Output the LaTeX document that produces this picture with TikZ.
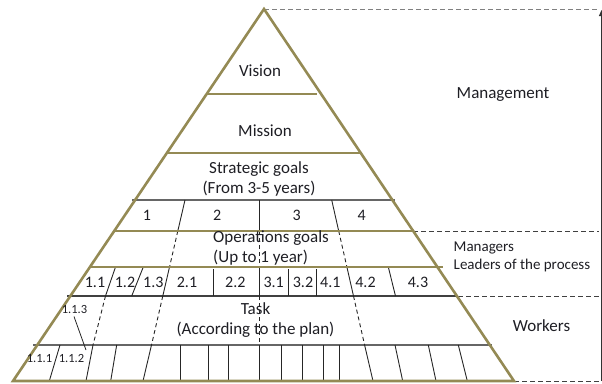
\documentclass[tikz,border=0pt]{standalone}
\usepackage{fontspec}
\setmainfont{Carlito}
\usetikzlibrary{arrows.meta}
\definecolor{olive}{HTML}{948A54}
\definecolor{inkgray}{HTML}{404040}
\definecolor{txt}{HTML}{1E1E24}
\begin{document}
\begin{tikzpicture}[x=1bp,y=-1bp,
  frame/.style={draw=olive,line width=2.6bp},
  thin/.style={draw=inkgray!80,line width=1.1bp},
  divider/.style={draw=black!85,line width=0.9bp},
  dashdiv/.style={divider,dash pattern=on 4bp off 3bp},
  guide/.style={draw=inkgray,line width=1bp,dash pattern=on 5bp off 3bp},
  lbl/.style={inner sep=0pt,text=txt,font=\fontsize{17bp}{20bp}\selectfont},
  sub/.style={inner sep=0pt,text=txt,font=\fontsize{16bp}{19bp}\selectfont},
  tiny/.style={inner sep=0pt,text=txt,font=\fontsize{12.5bp}{15bp}\selectfont},
  side/.style={inner sep=0pt,text=txt,font=\fontsize{15bp}{18bp}\selectfont}]
\useasboundingbox (0,0) rectangle (602,383);

% pyramid corners
\coordinate (apex) at (264,9);
\coordinate (bl) at (13,381);
\coordinate (br) at (514,381);

% guide lines on the right
\coordinate (g0) at (599,9);
\coordinate (g1) at (599,231);
\coordinate (g2) at (599,296);
\coordinate (g3) at (599,381);
\coordinate (a0) at (601.5,381);
\coordinate (a1) at (601.5,10);
\draw[guide,draw=gray] (apex) -- (g0);
\draw[guide] (413,231) -- (g1);
\draw[guide] (458,296) -- (g2);
\draw[guide] (br) -- (g3);
\draw[line width=1bp,draw=black!80,-{Triangle[length=6bp,width=5bp]}] (a0) -- (a1);

% thin level lines
\draw[thin] (132,200) -- (395,200);
\draw[thin,draw=inkgray] (67,296) -- (457,296);
\draw[thin] (33,345) -- (492,345);

% long dividers (goal 1|2, 2|3, 3|4), dashed across the unsplit rows
\draw[divider] (185,200) -- (177.8,231);
\draw[dashdiv] (177.8,231) -- (169.5,267);
\draw[divider] (169.5,267) -- (162.8,296);
\draw[dashdiv] (162.8,296) -- (151.5,345);
\draw[divider] (151.5,345) -- (143,381);

\draw[divider] (259,200) -- (259,231);
\draw[dashdiv] (259,231) -- (259,267);
\draw[divider] (259,267) -- (259,296);
\draw[dashdiv] (259,296) -- (259,345);
\draw[divider] (259,345) -- (259,381);

\draw[divider] (331.7,200) -- (338.7,231);
\draw[dashdiv] (338.7,231) -- (346.9,267);
\draw[divider] (346.9,267) -- (353.5,296);
\draw[dashdiv] (353.5,296) -- (364.6,345);
\draw[divider] (364.6,345) -- (373,381);

% divider 1.1|1.2 running down to the task cells
\draw[divider] (115.5,267) -- (105.5,296);
\draw[dashdiv] (105.5,296) -- (93,345);
\draw[divider] (93,345) -- (86,381);

% short dividers of the sub-goal row
\draw[divider] (143.3,267) -- (131.7,296);
\draw[divider] (213.5,269) -- (213.5,296);
\draw[divider] (288.3,269) -- (288.3,296);
\draw[divider] (316.5,269) -- (316.5,296);
\draw[divider] (388.3,267) -- (395.5,296);

% task cells
\draw[divider] (60,345) -- (49.3,381);
\draw[divider] (116.7,345) -- (110.7,381);
\foreach \x in {180,208,228,281,302.5,323.3,339.5}
  \draw[divider] (\x,345) -- (\x,381);
\draw[divider] (395,345) -- (402.7,381);
\draw[divider] (428.3,345) -- (436,381);
\draw[divider] (458.3,345) -- (467.3,381);

% pointer from label 1.1.3
\draw[divider,line width=0.8bp] (74,316.5) -- (86,350);

% olive frame and level lines
\draw[frame] (206.6,94) -- (317,94);
\draw[frame] (167,153) -- (360,153);
\draw[frame] (114,231) -- (413,231);
\draw[frame] (90,267) -- (443,267);
\draw[frame,line join=miter] (bl) -- (apex) -- (br) -- cycle;

% texts inside the pyramid
\node[lbl] (vision) at (260,71) {Vision};
\node[lbl] (mission) at (265,131) {Mission};
\node[lbl,align=center] (strat) at (259,179) {Strategic goals\\(From 3-5 years)};
\node[sub] (g1t) at (147,215) {1};
\node[sub] (g2t) at (217.3,215) {2};
\node[sub] (g3t) at (296.7,215) {3};
\node[sub] (g4t) at (361.7,215) {4};
\node[lbl,align=left,anchor=west] (ops) at (213,248) {Operations goals\\(Up to 1 year)};
\node[sub] (s11) at (95,282) {1.1};
\node[sub] (s12) at (125,282) {1.2};
\node[sub] (s13) at (153.3,282) {1.3};
\node[sub] (s21) at (187,282) {2.1};
\node[sub] (s22) at (235.3,282) {2.2};
\node[sub] (s31) at (273.7,282) {3.1};
\node[sub] (s32) at (303,282) {3.2};
\node[sub] (s41) at (330.3,282) {4.1};
\node[sub] (s42) at (365.5,282) {4.2};
\node[sub] (s43) at (418,282) {4.3};
\node[lbl,align=center] (task) at (255.5,320.5) {Task\\(According to the plan)};
\node[tiny] (t113) at (74.5,309) {1.1.3};
\node[tiny] (t111) at (39.5,358.5) {1.1.1};
\node[tiny] (t112) at (71.5,358.5) {1.1.2};

% levels on the right
\node[lbl] (mgmt) at (503,95) {Management};
\node[side,align=left,anchor=west] (mgrs) at (453.5,256.5) {Managers\\Leaders of the process};
\node[lbl] (workers) at (541.5,326) {Workers};
\end{tikzpicture}
\end{document}
